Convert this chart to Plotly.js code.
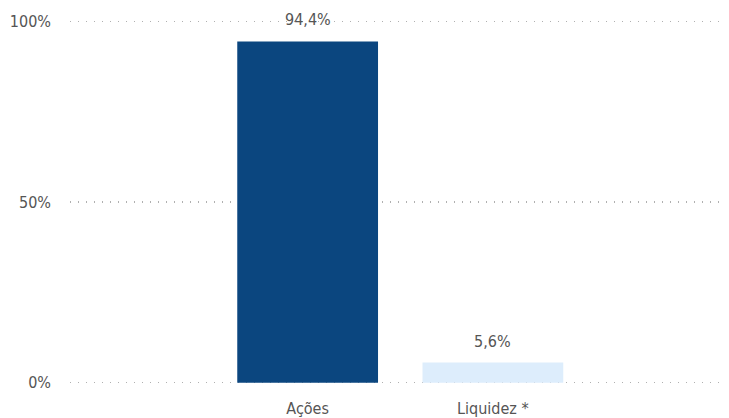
<!DOCTYPE html>
<html><head><meta charset="utf-8">
<script src="https://cdn.plot.ly/plotly-3.0.1.min.js"></script>
<style>html,body{margin:0;padding:0;background:#fff}#c{width:729px;height:418px}</style>
</head><body><div id="c"></div>
<script>
const categories = ["Ações", "Liquidez *"];
const values = [0.944, 0.056];
const labels = ["94,4%", "5,6%"];
const colors = ["#0B467F", "#DDEDFC"];
const yTicks = [0, 0.5, 1];
const yTickText = ["0%", "50%", "100%"];

const font = {family: "DejaVu Sans Condensed", size: 16, color: "#555"};

Plotly.newPlot("c", [{
  type: "bar",
  x: categories,
  y: values,
  marker: {color: colors},
  width: 0.76,
  hoverinfo: "none"
}], {
  width: 729, height: 418,
  margin: {l: 70, r: 7, t: 19, b: 33},
  paper_bgcolor: "#fff", plot_bgcolor: "#fff",
  showlegend: false,
  annotations: categories.map((c, i) => ({
    x: c, y: values[i], text: labels[i], showarrow: false,
    yanchor: "bottom", yshift: 10, font: font
  })),
  xaxis: {
    range: [-1.283, 2.237],
    showgrid: false, zeroline: false, showline: false,
    ticks: "", ticklabelstandoff: 12,
    tickfont: font
  },
  yaxis: {
    range: [-0.006, 1.006],
    tickvals: yTicks, ticktext: yTickText,
    showgrid: true, gridcolor: "#b0b0b0", griddash: "1px,7px", gridwidth: 1.3,
    zeroline: false, showline: false, ticks: "",
    ticklabelstandoff: 18,
    tickfont: font
  }
}, {displayModeBar: false, staticPlot: true});
</script></body></html>
